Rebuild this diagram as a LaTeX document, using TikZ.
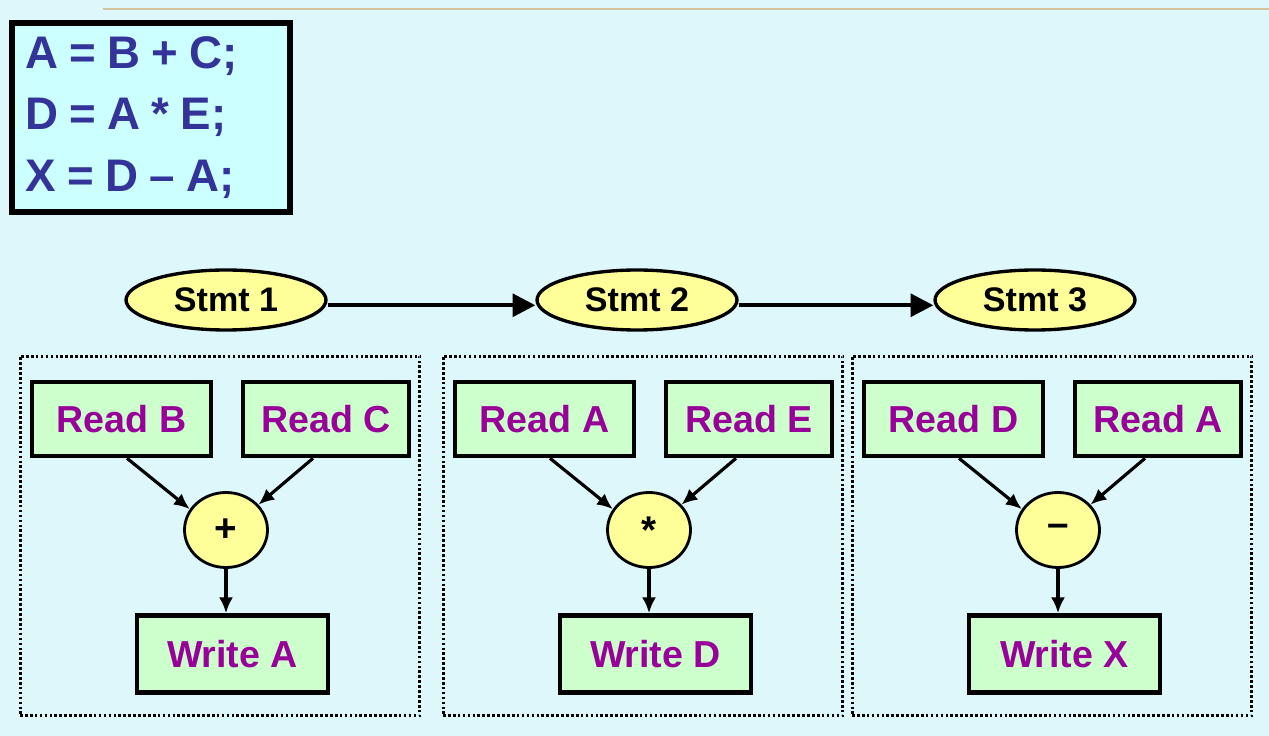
\documentclass[tikz,border=0pt]{standalone}
\usepackage{fontspec}
\setmainfont{Liberation Sans}
\usepackage{tikz}
\usetikzlibrary{shapes.geometric,arrows.meta}
\definecolor{paneback}{HTML}{DDF7FB}
\definecolor{codefill}{HTML}{CCFFFF}
\definecolor{codeblue}{HTML}{333399}
\definecolor{stmtfill}{HTML}{FFFF99}
\definecolor{accfill}{HTML}{CCFFCC}
\definecolor{accpurple}{HTML}{990099}
\definecolor{rulecol}{HTML}{D3C59B}
% one statement: frame, two reads, operator, write
\newcommand{\stage}[6]{%
  \node[frame] (#2f) at (#1+200,536) {};
  \node[rdwr, minimum width=3.58cm] (#2a) at (#1+101.5,419) {#3};
  \node[rdwr, minimum width=3.32cm] (#2b) at (#1+306,419) {#4};
  \node[op] (#2o) at (#1+206,530) {#5};
  \node[rdwr, minimum width=3.82cm, minimum height=1.54cm] (#2w) at (#1+212.5,654) {#6};
  \draw[flow] ([xshift=0.11cm]#2a.south) -- (#2o.150);
  \draw[flow] ([xshift=-0.26cm]#2b.south) -- (#2o.38);
  \draw[flow] (#2o.south) -- (#2o.south |- #2w.north);
}
\newcommand{\tightsp}{\spaceskip=0.245em\relax}

\begin{document}
\begin{tikzpicture}[
      x=0.02cm, y=-0.02cm,
      codebox/.style={rectangle, draw=black, line width=3.2pt, fill=codefill, text=codeblue,
        font=\fontsize{26}{35}\selectfont\bfseries, align=left, text width=5.0cm,
        inner xsep=0.25cm, minimum width=5.56cm, minimum height=3.78cm},
      stmt/.style={ellipse, draw=black, line width=1.9pt, fill=stmtfill, inner sep=0pt,
        minimum width=4.0cm, minimum height=1.2cm, font=\fontsize{19.4}{23}\selectfont\bfseries},
      frame/.style={rectangle, draw=black, dash pattern=on 1.5pt off 1.3pt, line width=1.7pt,
        inner sep=0pt, minimum width=8cm, minimum height=7.2cm},
      rdwr/.style={rectangle, draw=black, line width=2.6pt, fill=accfill, text=accpurple,
        minimum height=1.48cm, inner sep=0pt, font=\fontsize{21.4}{25}\selectfont\bfseries},
      op/.style={ellipse, draw=black, line width=1.6pt, fill=stmtfill, inner sep=0pt,
        minimum width=1.66cm, minimum height=1.5cm, font=\fontsize{22}{24}\selectfont\bfseries},
      flow/.style={line width=1.8pt, -{Latex[length=9pt,width=8pt]}},
      seq/.style={line width=2.2pt, -{Triangle[length=13pt,width=13pt]}}
      ]
      \fill[paneback] (0,0) rectangle (1269,736);
      \useasboundingbox (0,0) rectangle (1269,736);
      \draw[rulecol, line width=1.6pt] (103,9) -- (1269,9);

      \node[codebox, anchor=north west] (code) at (9,20) {\tightsp A = B + C;\\ D = A * E;\\ X = D -- A;};

      \node[stmt] (s1) at (226,300) {Stmt 1};
      \node[stmt] (s2) at (637,300) {Stmt 2};
      \node[stmt] (s3) at (1035,300) {Stmt 3};
      \draw[seq] ([yshift=-3pt]s1.east) -- ([yshift=-3pt]s2.west);
      \draw[seq] ([yshift=-3pt]s2.east) -- ([yshift=-3pt]s3.west);

      \stage{20}{p}{Read B}{Read C}{+}{Write A}
      \stage{443}{q}{Read A}{Read E}{*}{Write D}
      \stage{852}{r}{Read D}{Read A}{--}{Write X}
\end{tikzpicture}
\end{document}
